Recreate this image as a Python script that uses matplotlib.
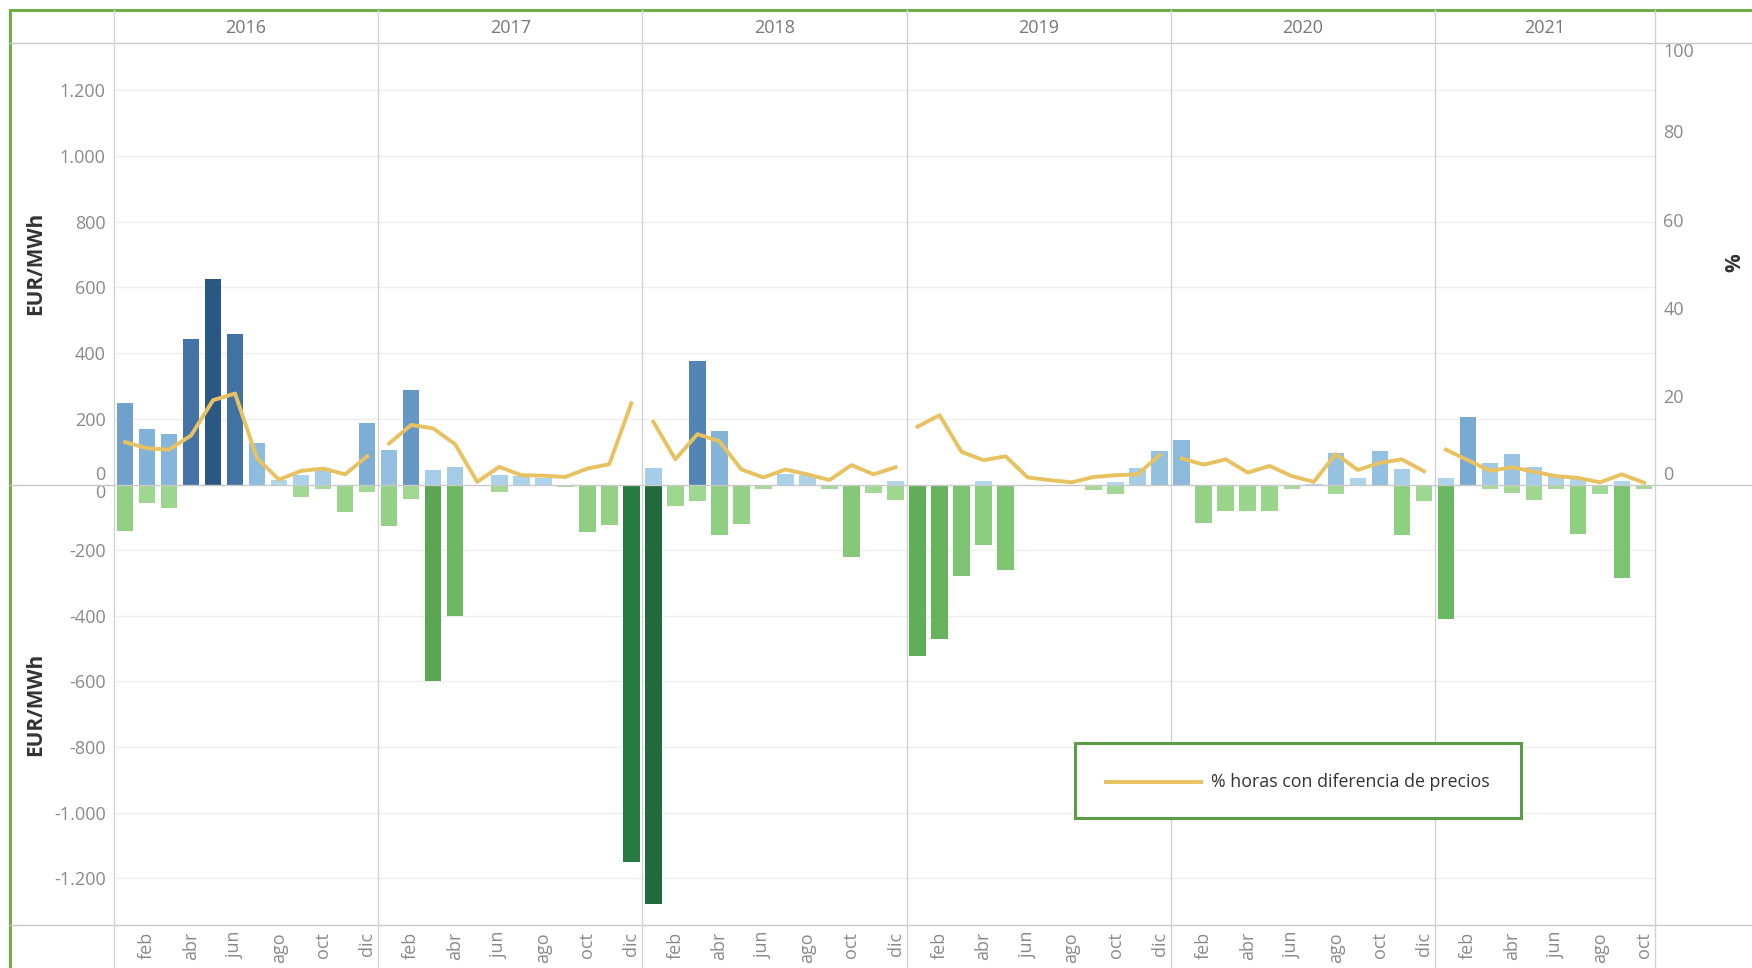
import matplotlib.pyplot as plt
import numpy as np
from matplotlib.colors import LinearSegmentedColormap
from matplotlib.lines import Line2D
from matplotlib.patches import Rectangle

plt.rcParams['font.family'] = ['Open Sans', 'DejaVu Sans']

years = [2016, 2017, 2018, 2019, 2020, 2021]
n_months = [12, 12, 12, 12, 12, 10]
month_names = ['ene', 'feb', 'mar', 'abr', 'may', 'jun',
               'jul', 'ago', 'sep', 'oct', 'nov', 'dic']

# EUR/MWh, positive side of the monthly price difference
pos = [
    247, 169, 155, 443, 627, 459, 125, 15, 28, 51, 0, 186,      # 2016
    104, 289, 43, 52, 0, 28, 25, 21, 0, 0, 0, 0,                # 2017
    49, 0, 377, 162, 0, 0, 32, 28, 0, 0, 0, 11,                 # 2018
    0, 0, 0, 11, 0, 0, 0, 0, 0, 7, 49, 101,                     # 2019
    134, 0, 0, 0, 0, 0, 3, 97, 21, 101, 46, 0,                  # 2020
    21, 206, 66, 93, 52, 28, 21, 0, 11, 0,                      # 2021
]
# EUR/MWh, negative side
neg = [
    -142, -57, -71, 0, -2, -6, 0, 0, -37, -13, -84, -22,
    -125, -44, -600, -400, -2, -23, 0, 0, -7, -146, -123, -1150,
    -1278, -64, -51, -153, -119, -13, 0, 0, -13, -221, -27, -47,
    -523, -472, -280, -184, -262, -6, 0, 0, -16, -30, 0, 0,
    0, -116, -81, -81, -81, -13, 0, -29, 0, -2, -153, -51,
    -410, 0, -13, -27, -47, -13, -150, -30, -284, -13,
]
# % horas con diferencia de precios
pct = [
    9.6, 8.2, 7.9, 11.1, 19.1, 20.6, 5.9, 1.1, 3.1, 3.6, 2.3, 6.4,
    9.3, 13.5, 12.7, 9.1, 0.6, 4.0, 2.1, 2.0, 1.7, 3.6, 4.6, 18.4,
    14.2, 5.7, 11.4, 9.8, 3.4, 1.6, 3.4, 2.3, 1.0, 4.4, 2.3, 3.9,
    13.1, 15.7, 7.4, 5.5, 6.4, 1.6, 1.0, 0.5, 1.7, 2.1, 2.3, 6.7,
    5.9, 4.5, 5.7, 2.7, 4.2, 1.9, 0.6, 6.9, 3.3, 4.9, 5.7, 3.0,
    7.9, 5.5, 3.1, 3.9, 2.9, 1.9, 1.5, 0.5, 2.3, 0.4,
]

blues = LinearSegmentedColormap.from_list('pos', [
    (0, '#b4d8ee'), (150 / 630, '#86b6da'), (300 / 630, '#6396c4'),
    (450 / 630, '#4373a6'), (1, '#2a5783')])
greens = LinearSegmentedColormap.from_list('neg', [
    (0, '#a6db98'), (200 / 1280, '#88cb7b'), (400 / 1280, '#6bb962'),
    (600 / 1280, '#5ca653'), (1150 / 1280, '#267a3f'), (1, '#216a3b')])

W, H = 1752, 968
fig = plt.figure(figsize=(W / 100, H / 100), dpi=100)

left, right = 114 / W, 1655 / W
y_head, y_zero, y_foot = 43, 484.5, 925
ax_top = fig.add_axes([left, 1 - y_zero / H, right - left, (y_zero - y_head) / H])
ax_bot = fig.add_axes([left, 1 - y_foot / H, right - left, (y_foot - y_zero) / H])

total = sum(n_months)
x = np.arange(total) + 0.5
pos_colors = [blues(min(v, 630) / 630) for v in pos]
neg_colors = [greens(min(-v, 1280) / 1280) for v in neg]

ax_top.bar(x, pos, 0.75, color=pos_colors, zorder=2)
ax_bot.bar(x, neg, 0.75, color=neg_colors, zorder=2)

tick_col = '#8a8a8a'
fs = 13


def fmt(v):
    return f'{v:,}'.replace(',', '.')


for ax, lim, ticks in [(ax_top, (0, 1344), range(0, 1201, 200)),
                       (ax_bot, (-1342, 0), range(-1200, 1, 200))]:
    ax.set_xlim(0, total)
    ax.set_ylim(*lim)
    ticks = list(ticks)
    ax.set_yticks(ticks)
    ax.set_yticklabels([fmt(t) for t in ticks])
    for t in ticks:
        if t != 0:
            ax.axhline(t, color='#efefef', lw=1, zorder=0)
    for s in ax.spines.values():
        s.set_visible(False)
    ax.tick_params(axis='y', length=0, pad=6, labelsize=fs, labelcolor=tick_col)
    ax.tick_params(axis='x', length=0)

ax_top.set_xticks([])
ax_top.yaxis.get_major_ticks()[0].label1.set_verticalalignment('bottom')
ax_bot.yaxis.get_major_ticks()[-1].label1.set_verticalalignment('top')

# month labels every second month
tick_pos, tick_lab = [], []
start = 0
for n in n_months:
    for m in range(1, n, 2):
        tick_pos.append(start + m + 0.5)
        tick_lab.append(month_names[m])
    start += n
ax_bot.set_xticks(tick_pos)
ax_bot.set_xticklabels(tick_lab, rotation=90, va='top', ha='center')
ax_bot.tick_params(axis='x', pad=5, labelsize=fs, labelcolor=tick_col)

# share of hours, one line per year
ax_pct = ax_top.twinx()
ax_pct.set_ylim(0, 100)
ax_pct.set_xlim(0, total)
start = 0
for n in n_months:
    ax_pct.plot(x[start:start + n], pct[start:start + n], color='#e8c260',
                lw=2.8, solid_joinstyle='round', zorder=3)
    start += n
ax_pct.set_yticks(range(0, 101, 20))
for s in ax_pct.spines.values():
    s.set_visible(False)
ax_pct.tick_params(axis='y', length=0, pad=6, labelsize=fs, labelcolor=tick_col)
ax_pct.yaxis.get_major_ticks()[0].label2.set_verticalalignment('bottom')
ax_pct.yaxis.get_major_ticks()[-1].label2.set_verticalalignment('top')

# frame lines
line_col = '#c9c9c9'
for yy in (y_head, y_zero, y_foot):
    fig.add_artist(Line2D([10 / W, 1], [1 - yy / H] * 2, color=line_col, lw=1))
bounds = np.cumsum([0] + n_months)
for b in bounds:
    xf = left + (right - left) * b / total
    fig.add_artist(Line2D([xf, xf], [0, 1 - 10 / H], color='#d2d2d2', lw=1))

# year header
for yr, b0, n in zip(years, bounds[:-1], n_months):
    xf = left + (right - left) * (b0 + n / 2) / total
    fig.text(xf, 1 - 28 / H, str(yr), ha='center', va='center',
             fontsize=fs, color='#777777')

# axis titles
title_kw = dict(rotation=90, ha='center', va='center', fontsize=15,
                fontweight='bold', color='#333333')
fig.text(36 / W, 1 - (y_head + y_zero) / 2 / H, 'EUR/MWh', **title_kw)
fig.text(36 / W, 1 - (y_zero + y_foot) / 2 / H, 'EUR/MWh', **title_kw)
fig.text(1735 / W, 1 - 263 / H, '%', **title_kw)

# legend box
fig.add_artist(Rectangle((1075 / W, 1 - 818 / H), 446 / W, 75 / H,
                         transform=fig.transFigure, facecolor='white',
                         edgecolor='#5a9d48', lw=2.2, zorder=5))
fig.add_artist(Line2D([1106 / W, 1201 / W], [1 - 782 / H] * 2, color='#e8c260',
                      lw=2.8, zorder=6))
fig.text(1211 / W, 1 - 782 / H, '% horas con diferencia de precios',
         ha='left', va='center', fontsize=12.8, color='#333333', zorder=6)

# outer border
fig.add_artist(Rectangle((10 / W, -0.05), 1.1, 1 - 10 / H + 0.05,
                         transform=fig.transFigure, fill=False,
                         edgecolor='#70ad47', lw=2.2))

fig.savefig('out.png', dpi=100)
